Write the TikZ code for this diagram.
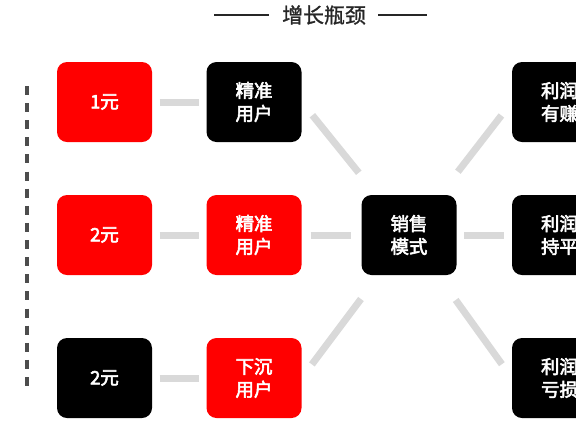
\documentclass[tikz,border=0pt]{standalone}
\usepackage{fontspec}
\newfontfamily\cjk[FakeBold=1.2]{Noto Sans CJK SC}
\newfontfamily\cjkheavy[FakeBold=3]{Noto Sans CJK SC}
\usetikzlibrary{positioning, calc}
\definecolor{tilered}{HTML}{FF0000}
\definecolor{linkgray}{HTML}{D9D9D9}
\definecolor{inkgray}{HTML}{4D4D4D}
\tikzset{tile/.style={rounded corners=10bp, minimum width=95bp, minimum height=80bp, inner sep=0, text=white, align=center, font=\cjkheavy\fontsize{18.5}{23}\selectfont}}
\tikzset{redtile/.style={tile, fill=tilered}}
\tikzset{blacktile/.style={tile, fill=black}}
\tikzset{link/.style={draw=linkgray, line width=7bp, shorten <=7.5bp, shorten >=7.5bp}}
\tikzset{spoke/.style={link, shorten <=17bp, shorten >=80bp}}
\tikzset{rule/.style={draw={black!85}, line width=1.6bp}}

\begin{document}
\begin{tikzpicture}[x=1bp, y=-1bp]
	\useasboundingbox (0,0) rectangle (576,432);
	\node[inner sep=0, text={black!85}, font=\cjk\fontsize{21}{24}\selectfont] (title) at (324,15) {增长瓶颈};
	\coordinate (tl) at (214,15);
	\coordinate (tr) at (427,15);
	\draw[rule, shorten >=13bp] (tl) -- (title.west);
	\draw[rule, shorten <=12bp] (title.east) -- (tr);
	
	\coordinate (dtop) at (27,86);
	\coordinate (dbot) at (27,386);
	\draw[draw=inkgray, line width=3.2bp, dash pattern=on 9bp off 8.12bp] (dtop) -- (dbot);
	
	\node[redtile] (a1) at (104.5,102) {1元};
	\node[blacktile] (u1) at (254,102) {精准\\用户};
	\node[redtile] (a2) at (104.5,235) {2元};
	\node[redtile] (u2) at (254,235) {精准\\用户};
	\node[blacktile] (a3) at (104.5,378) {2元};
	\node[redtile] (u3) at (254,378) {下沉\\用户};
	\node[blacktile] (m) at (409,235) {销售\\模式};
	\node[blacktile] (r1) at (559.5,102) {利润\\有赚};
	\node[blacktile] (r2) at (559.5,235) {利润\\持平};
	\node[blacktile] (r3) at (559.5,378) {利润\\亏损};
	
	\draw[link] (a1) -- (u1);
	\draw[link] (a2) -- (u2);
	\draw[link] (a3) -- (u3);
	\draw[link, shorten <=9bp, shorten >=10bp] (u2) -- (m);
	\draw[link] (m) -- (r2);
	
	\draw[spoke] (u1.east) -- (m.center);
	\draw[spoke] (r1.west) -- (m.center);
	\draw[spoke] (u3.east) -- (m.center);
	\draw[spoke] (r3.west) -- (m.center);
\end{tikzpicture}
\end{document}
